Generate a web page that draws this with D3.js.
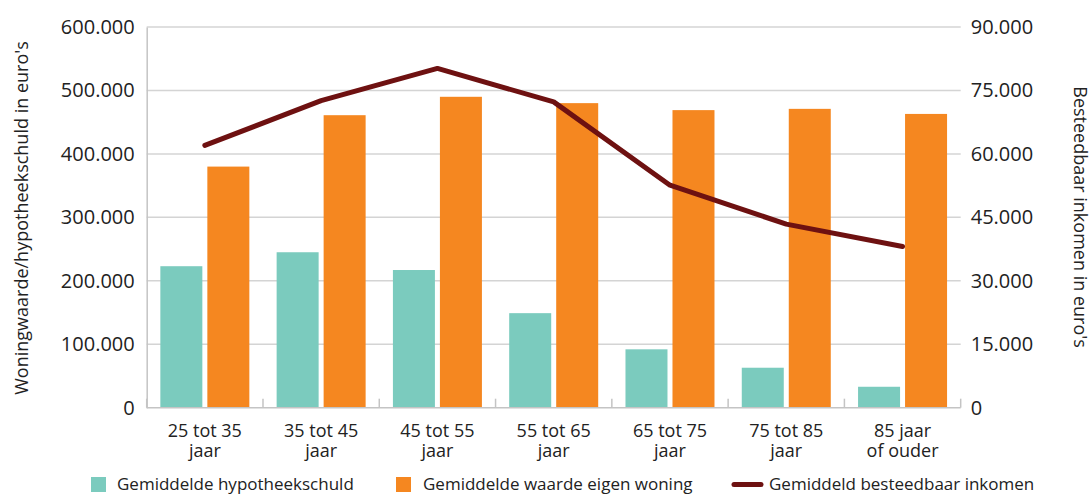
<!DOCTYPE html>
<html>
<head>
<meta charset="utf-8">
<script src="https://cdn.jsdelivr.net/npm/d3@7"></script>
<style>
  body { margin: 0; background: #fff; }
  svg text { font-family: "Open Sans", sans-serif; fill: #222; }
</style>
</head>
<body>
<div id="chart"></div>
<script>
// leeftijdsgroepen (two lines per label)
var categories = [["25 tot 35", "jaar"], ["35 tot 45", "jaar"], ["45 tot 55", "jaar"], ["55 tot 65", "jaar"], ["65 tot 75", "jaar"], ["75 tot 85", "jaar"], ["85 jaar", "of ouder"]]
var hypotheekschuld = [223000, 245000, 217000, 149000, 92000, 63000, 33000]
var woningwaarde = [380000, 461000, 490000, 480000, 469000, 471000, 463000]
var inkomen = [62000, 72600, 80200, 72300, 52600, 43400, 38100]
var leftTicks = [0, 100000, 200000, 300000, 400000, 500000, 600000]
var rightTicks = [0, 15000, 30000, 45000, 60000, 75000, 90000]

var width = 1091
height = 494

var plotLeft = 146.7, plotRight = 960.7, plotTop = 27, plotBottom = 407.7

var fmt = function (v) { return v == 0 ? "0" : d3.format(",")(v).replace(/,/g, ".") }

var svg = d3.select("#chart")
  .append("svg")
  .attr("width", width)
  .attr("height", height)

var x = d3.scaleBand()
  .domain(d3.range(categories.length))
  .range([plotLeft, plotRight])

var yLeft = d3.scaleLinear().domain([0, 600000]).range([plotBottom, plotTop])
var yRight = d3.scaleLinear().domain([0, 90000]).range([plotBottom, plotTop])

var barW = 42, barGap = 5

// gridlines
svg.selectAll(".grid")
  .data(leftTicks.slice(1))
  .enter()
  .append("line")
  .attr("x1", plotLeft)
  .attr("x2", plotRight)
  .attr("y1", d => yLeft(d))
  .attr("y2", d => yLeft(d))
  .attr("stroke", "#d4d4d4")
  .attr("stroke-width", 1.5)

// left axis
var leftAxis = svg.append("g")
  .attr("transform", "translate(" + plotLeft + ",0)")
  .call(d3.axisLeft(yLeft).tickValues(leftTicks).tickFormat(fmt).tickSize(0).tickPadding(12))
leftAxis.select(".domain").attr("stroke", "#c4c4c4").attr("stroke-width", 1.5)
leftAxis.selectAll("text").style("font-size", "20px").attr("fill", "#222")

// right axis
var rightAxis = svg.append("g")
  .attr("transform", "translate(" + plotRight + ",0)")
  .call(d3.axisRight(yRight).tickValues(rightTicks).tickFormat(fmt).tickSize(0).tickPadding(10))
rightAxis.select(".domain").remove()
rightAxis.selectAll("text").style("font-size", "20px").attr("fill", "#222")

// bars
svg.selectAll(".schuld")
  .data(hypotheekschuld)
  .enter()
  .append("rect")
  .attr("x", (d, i) => x(i) + x.bandwidth() / 2 - barGap / 2 - barW)
  .attr("y", d => yLeft(d))
  .attr("width", barW)
  .attr("height", d => plotBottom - yLeft(d))
  .attr("fill", "#7bcbbe")

svg.selectAll(".waarde")
  .data(woningwaarde)
  .enter()
  .append("rect")
  .attr("x", (d, i) => x(i) + x.bandwidth() / 2 + barGap / 2)
  .attr("y", d => yLeft(d))
  .attr("width", barW)
  .attr("height", d => plotBottom - yLeft(d))
  .attr("fill", "#f58720")

// bottom axis line + ticks at band edges
svg.append("line")
  .attr("x1", plotLeft).attr("x2", plotRight)
  .attr("y1", plotBottom).attr("y2", plotBottom)
  .attr("stroke", "#c4c4c4").attr("stroke-width", 1.5)

svg.selectAll(".xtick")
  .data(d3.range(categories.length + 1))
  .enter()
  .append("line")
  .attr("x1", d => plotLeft + d * x.step())
  .attr("x2", d => plotLeft + d * x.step())
  .attr("y1", plotBottom)
  .attr("y2", plotBottom - 9)
  .attr("stroke", "#c4c4c4").attr("stroke-width", 1.5)

// category labels
var catLabels = svg.selectAll(".cat")
  .data(categories)
  .enter()
  .append("text")
  .attr("text-anchor", "middle")
  .style("font-size", "18px")
catLabels.append("tspan")
  .attr("x", (d, i) => x(i) + x.bandwidth() / 2)
  .attr("y", 437)
  .text(d => d[0])
catLabels.append("tspan")
  .attr("x", (d, i) => x(i) + x.bandwidth() / 2)
  .attr("y", 457)
  .text(d => d[1])

// income line
var line = d3.line()
  .x((d, i) => x(i) + x.bandwidth() / 2)
  .y(d => yRight(d))

svg.append("path")
  .datum(inkomen)
  .attr("d", line)
  .attr("fill", "none")
  .attr("stroke", "#6e1111")
  .attr("stroke-width", 5)
  .attr("stroke-linecap", "round")
  .attr("stroke-linejoin", "round")

// axis titles
svg.append("text")
  .attr("transform", "translate(28," + 218 + ") rotate(-90)")
  .attr("text-anchor", "middle")
  .style("font-size", "18px")
  .text("Woningwaarde/hypotheekschuld in euro's")

svg.append("text")
  .attr("transform", "translate(1074," + 217 + ") rotate(90)")
  .attr("text-anchor", "middle")
  .style("font-size", "18px")
  .text("Besteedbaar inkomen in euro's")

// legend
var legend = svg.append("g")
legend.append("rect").attr("x", 91).attr("y", 477).attr("width", 15).attr("height", 15).attr("fill", "#7bcbbe")
legend.append("text").attr("x", 117).attr("y", 490).style("font-size", "17px").text("Gemiddelde hypotheekschuld")
legend.append("rect").attr("x", 396).attr("y", 477).attr("width", 15).attr("height", 15).attr("fill", "#f58720")
legend.append("text").attr("x", 423).attr("y", 490).style("font-size", "17px").text("Gemiddelde waarde eigen woning")
legend.append("line").attr("x1", 734).attr("x2", 761).attr("y1", 484.5).attr("y2", 484.5)
  .attr("stroke", "#6e1111").attr("stroke-width", 5).attr("stroke-linecap", "round")
legend.append("text").attr("x", 769).attr("y", 490).style("font-size", "17px").text("Gemiddeld besteedbaar inkomen")
</script>
</body>
</html>
